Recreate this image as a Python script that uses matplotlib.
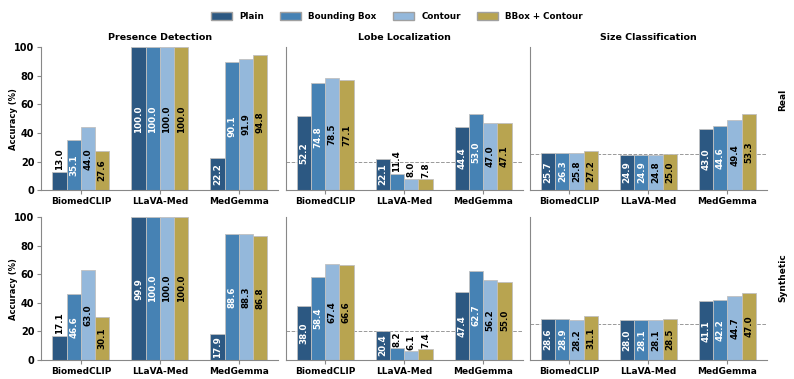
import numpy as np
import matplotlib
matplotlib.use('Agg')
import matplotlib.pyplot as plt
from matplotlib.patches import Patch

plt.rcParams['font.family'] = ['DejaVu Sans']
plt.rcParams['font.weight'] = 'bold'

# data
models = ['BiomedCLIP', 'LLaVA-Med', 'MedGemma']
methods = ['Plain', 'Bounding Box', 'Contour', 'BBox + Contour']
tasks = ['Presence Detection', 'Lobe Localization', 'Size Classification']
settings = ['Real', 'Synthetic']
chance = [None, 20.0, 25.0]

# rows = model, cols = method
real_presence = [[13.0, 35.1, 44.0, 27.6], [100.0, 100.0, 100.0, 100.0], [22.2, 90.1, 91.9, 94.8]]
real_lobe = [[52.2, 74.8, 78.5, 77.1], [22.1, 11.4, 8.0, 7.8], [44.4, 53.0, 47.0, 47.1]]
real_size = [[25.7, 26.3, 25.8, 27.2], [24.9, 24.9, 24.8, 25.0], [43.0, 44.6, 49.4, 53.3]]
syn_presence = [[17.1, 46.6, 63.0, 30.1], [99.9, 100.0, 100.0, 100.0], [17.9, 88.6, 88.3, 86.8]]
syn_lobe = [[38.0, 58.4, 67.4, 66.6], [20.4, 8.2, 6.1, 7.4], [47.4, 62.7, 56.2, 55.0]]
syn_size = [[28.6, 28.9, 28.2, 31.1], [28.0, 28.1, 28.1, 28.5], [41.1, 42.2, 44.7, 47.0]]

results = [[real_presence, real_lobe, real_size],
           [syn_presence, syn_lobe, syn_size]]

colors = ['#2c5882', '#4682b4', '#94b8db', '#b8a450']
text_colors = ['white', 'white', 'black', 'black']

fig, axes = plt.subplots(2, 3, figsize=(7.94, 3.79), dpi=100, sharey=True)
fig.subplots_adjust(left=0.052, right=0.966, top=0.875, bottom=0.05,
                    wspace=0.03, hspace=0.19)

x = np.arange(len(models))
w = 0.18

for r in range(2):
    for c in range(3):
        ax = axes[r, c]
        vals = np.array(results[r][c])
        for m in range(4):
            pos = x + (m - 1.5) * w
            ax.bar(pos, vals[:, m], w, color=colors[m], edgecolor='#c0c0c0',
                   linewidth=0.6, zorder=2)
            for xi, v in zip(pos, vals[:, m]):
                if v > 17.5:
                    ax.text(xi, v / 2, f'{v:.1f}', rotation=90, ha='center',
                            va='center', fontsize=6.3, fontweight='bold',
                            color=text_colors[m], zorder=3)
                else:
                    ax.text(xi, v + 1, f'{v:.1f}', rotation=90, ha='center',
                            va='bottom', fontsize=6.3, fontweight='bold',
                            color='black', zorder=3)
        if chance[c] is not None:
            ax.axhline(chance[c], color='gray', linestyle='--', linewidth=0.7,
                       alpha=0.8, zorder=1)
        ax.set_ylim(0, 100)
        ax.set_xlim(-0.5, 2.5)
        ax.set_xticks(x)
        ax.set_xticklabels(models, fontsize=6.5, fontweight='bold')
        for s in ['top', 'right']:
            ax.spines[s].set_visible(False)
        for s in ['left', 'bottom']:
            ax.spines[s].set_color('#888888')
        ax.tick_params(axis='x', length=3, color='#888888', pad=2)
        ax.tick_params(axis='y', labelsize=7, length=3, color='#888888', pad=2)
        if c == 0:
            ax.set_ylabel('Accuracy (%)', fontsize=6, fontweight='bold')
            ax.yaxis.set_label_coords(-0.1, 0.5)
            ax.set_yticks([0, 20, 40, 60, 80, 100])
        else:
            ax.tick_params(axis='y', left=False, labelleft=False)
        if r == 0:
            ax.set_title(tasks[c], fontsize=6.8, fontweight='bold', pad=5)

# row labels
fig.text(0.986, 0.736, settings[0], rotation=90, ha='center', va='center',
         fontsize=6.5, fontweight='bold')
fig.text(0.986, 0.267, settings[1], rotation=90, ha='center', va='center',
         fontsize=6.5, fontweight='bold')

handles = [Patch(facecolor=colors[i], edgecolor='#a0a0a0', label=methods[i]) for i in range(4)]
fig.legend(handles=handles, loc='upper center', bbox_to_anchor=(0.5, 0.99), ncol=4,
           frameon=False, prop={'size': 6.3, 'weight': 'bold'}, handlelength=2.4,
           handleheight=1.0, columnspacing=1.9)

fig.savefig('out.png', dpi=100)
